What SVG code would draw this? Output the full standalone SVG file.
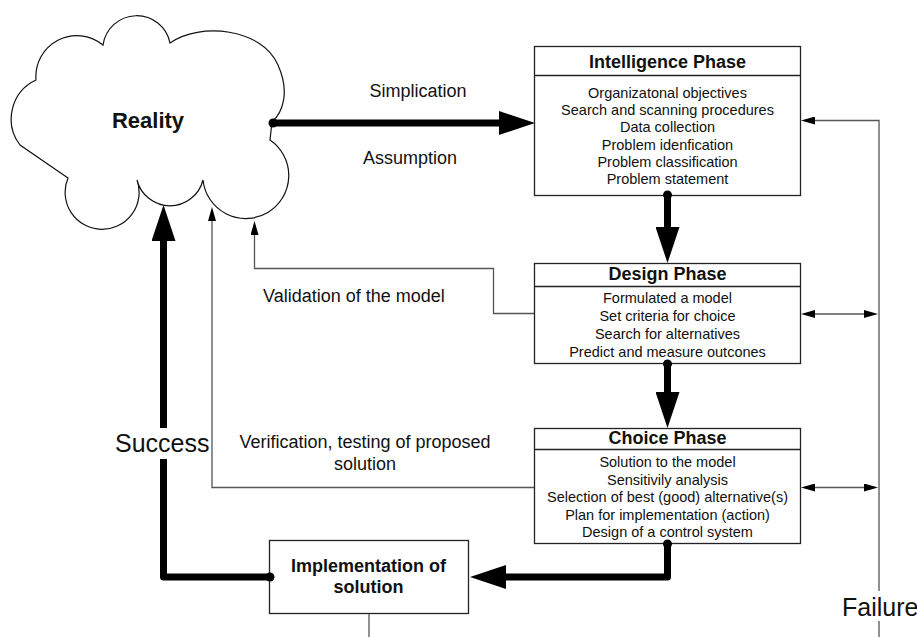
<svg xmlns="http://www.w3.org/2000/svg" width="917" height="637" viewBox="0 0 917 637">
<style>
text{font-family:"Liberation Sans",Arial,sans-serif;fill:#111}
.title{font-size:18px;font-weight:bold;text-anchor:middle}
.item{font-size:14.5px;text-anchor:middle}
.lbl{font-size:18px}
.big{font-size:25px}
.box{fill:#fff;stroke:#222;stroke-width:1.3}
.sep{stroke:#222;stroke-width:1.3}
.thick{fill:none;stroke:#000;stroke-width:7;stroke-linejoin:round}
.thin{fill:none;stroke:#555;stroke-width:1.3}
.cloud{fill:#fff;stroke:#111;stroke-width:1.2}
</style>
<defs>
<marker id="bigArrow" viewBox="0 0 36 24" refX="6" refY="12" markerWidth="36" markerHeight="24" markerUnits="userSpaceOnUse" orient="auto">
<path d="M0,0 L36,12 L0,24 z" fill="#000"/>
</marker>
<marker id="smallArrow" viewBox="0 0 14 8" refX="10" refY="4" markerWidth="14" markerHeight="8" markerUnits="userSpaceOnUse" orient="auto-start-reverse">
<path d="M0,0 L14,4 L0,8 z" fill="#000"/>
</marker>
<marker id="dot" viewBox="0 0 10 10" refX="5" refY="5" markerWidth="10" markerHeight="10" markerUnits="userSpaceOnUse">
<circle cx="5" cy="5" r="4.5" fill="#000"/>
</marker>
</defs>
<rect width="917" height="637" fill="#fff"/>

<g id="reality">
<path class="cloud" d="M103,45 A34,34 0 0 1 170,43 C200,22 262,28 278,65 C290,92 283,112 272,122 L270,140 A43,43 0 1 1 203,180 A34,34 0 0 1 137,180 A37,37 0 1 1 68,178 L20,145 A43,43 0 0 1 36,80 A41,41 0 0 1 103,45 Z"/>
<text class="title" x="148" y="128" style="font-size:22px">Reality</text>
</g>

<g id="intelligence">
<rect class="box" x="534.5" y="46.5" width="266" height="149"/>
<line class="sep" x1="534.5" y1="75.5" x2="800.5" y2="75.5"/>
<text class="title" x="667.5" y="68">Intelligence Phase</text>
<text class="item" x="667.5" y="98">Organizatonal objectives</text>
<text class="item" x="667.5" y="115.2">Search and scanning procedures</text>
<text class="item" x="667.5" y="132.4">Data collection</text>
<text class="item" x="667.5" y="149.6">Problem idenfication</text>
<text class="item" x="667.5" y="166.8">Problem classification</text>
<text class="item" x="667.5" y="184">Problem statement</text>
</g>

<g id="design">
<rect class="box" x="534.5" y="263.5" width="266" height="100"/>
<line class="sep" x1="534.5" y1="286.5" x2="800.5" y2="286.5"/>
<text class="title" x="667.5" y="280">Design Phase</text>
<text class="item" x="667.5" y="302.5">Formulated a model</text>
<text class="item" x="667.5" y="320.5">Set criteria for choice</text>
<text class="item" x="667.5" y="338.5">Search for alternatives</text>
<text class="item" x="667.5" y="356.5">Predict and measure outcones</text>
</g>

<g id="choice">
<rect class="box" x="534.5" y="428.5" width="266" height="115"/>
<line class="sep" x1="534.5" y1="449.5" x2="800.5" y2="449.5"/>
<text class="title" x="667.5" y="444">Choice Phase</text>
<text class="item" x="667.5" y="467">Solution to the model</text>
<text class="item" x="667.5" y="484.6">Sensitivily analysis</text>
<text class="item" x="667.5" y="502.2">Selection of best (good) alternative(s)</text>
<text class="item" x="667.5" y="519.8">Plan for implementation (action)</text>
<text class="item" x="667.5" y="537.4">Design of a control system</text>
</g>

<g id="implementation">
<rect class="box" x="269.5" y="540.5" width="199" height="73"/>
<text class="title" x="368.5" y="572">Implementation of</text>
<text class="title" x="368.5" y="593">solution</text>
</g>

<g id="connectors">
<path class="thick" d="M273,123 H505" marker-start="url(#dot)" marker-end="url(#bigArrow)"/>
<path class="thick" d="M667.5,195 V233" marker-start="url(#dot)" marker-end="url(#bigArrow)"/>
<path class="thick" d="M667.5,364 V398" marker-start="url(#dot)" marker-end="url(#bigArrow)"/>
<path class="thick" d="M667.5,544 V577 H500" marker-start="url(#dot)" marker-end="url(#bigArrow)"/>
<path class="thick" d="M270,577 H163.5 V459" marker-start="url(#dot)"/>
<path class="thick" d="M163.5,428 V235" marker-end="url(#bigArrow)"/>
<path class="thin" d="M534,313.5 H493.5 V268.5 H254.5 V225" marker-end="url(#smallArrow)"/>
<path class="thin" d="M534,487.5 H212 V211" marker-end="url(#smallArrow)"/>
<path class="thin" d="M879,591 V120.5 H805" marker-end="url(#smallArrow)"/>
<path class="thin" d="M879,621 V637"/>
<path class="thin" d="M805,314 H874" marker-start="url(#smallArrow)" marker-end="url(#smallArrow)"/>
<path class="thin" d="M805,487.5 H874" marker-start="url(#smallArrow)" marker-end="url(#smallArrow)"/>
<path class="thin" d="M369,614 V637"/>
</g>

<g id="labels">
<text class="lbl" x="418" y="97" text-anchor="middle">Simplication</text>
<text class="lbl" x="410" y="164" text-anchor="middle">Assumption</text>
<text class="lbl" x="263" y="302">Validation of the model</text>
<text class="lbl" x="365" y="448" text-anchor="middle">Verification, testing of proposed</text>
<text class="lbl" x="365" y="470" text-anchor="middle">solution</text>
<text class="big" x="115" y="452">Success</text>
<text class="big" x="842" y="616">Failure</text>
</g>
</svg>
